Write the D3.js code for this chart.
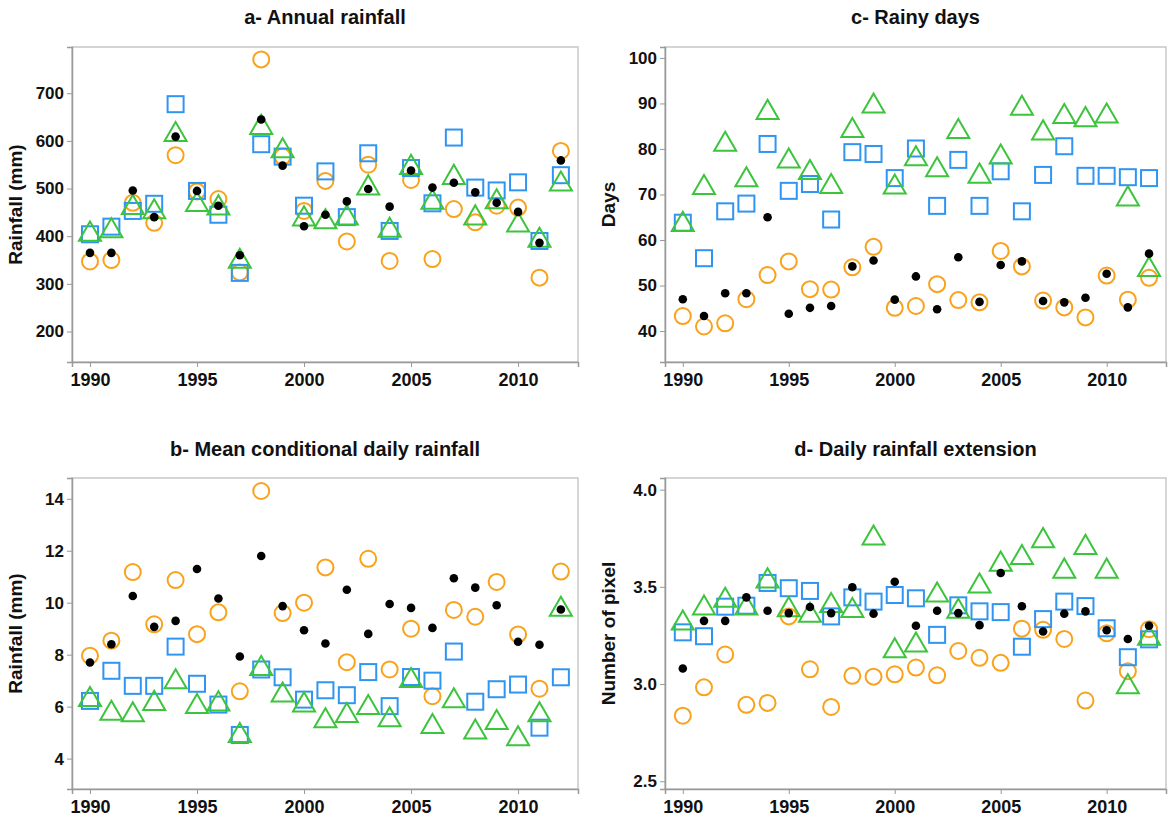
<!DOCTYPE html>
<html>
<head>
<meta charset="utf-8">
<script src="https://cdn.jsdelivr.net/npm/d3@7"></script>
<style>
  body { margin: 0; background: #fff; font-family: Arial, "Liberation Sans", sans-serif; }
</style>
</head>
<body>
<svg id="chart" width="1170" height="818"></svg>
<script>
const years = d3.range(1990, 2013);
const xTicks = [1990, 1995, 2000, 2005, 2010];

// a- Annual rainfall
const aBlack  = [365,365,496,440,609,495,464,360,645,548,421,445,473,499,462,538,502,512,492,470,451,386,559];
const aOrange = [347,350,470,428,570,494,478,324,771,567,453,516,389,550,348,518,352,457,429,464,460,313,579];
const aBlue   = [404,420,453,468,677,495,445,323,593,567,464,536,440,574,411,543,469,607,502,496,513,390,528];
const aGreen  = [404,411,460,451,613,466,459,347,628,579,436,430,438,501,412,544,471,523,438,472,423,391,509];

// c- Rainy days
const cBlack  = [47,43.3,48.3,48.3,65,43.8,45.1,45.5,54.2,55.5,46.9,52,44.8,56.2,46.4,54.5,55.3,46.6,46.3,47.3,52.6,45.2,57];
const cOrange = [43.3,41,41.7,47,52.3,55.3,49.2,49.1,54,58.5,45.1,45.5,50.3,46.8,46.3,57.6,54.2,46.7,45.2,43,52.2,46.9,51.7];
const cBlue   = [63.8,56,66.3,68,81.1,70.8,72.3,64.5,79.3,78.9,73.6,80.1,67.5,77.6,67.5,75.1,66.3,74.3,80.6,74.1,74.1,73.8,73.6];
const cGreen  = [63.4,71.5,81,73.2,88,77.3,74.8,71.7,84,89.4,71.6,77.8,75.4,83.8,74,78.2,88.9,83.5,87.1,86.4,87.2,69,53.5];

// b- Mean conditional daily rainfall
const bBlack  = [7.7,8.4,10.26,9.07,9.3,11.3,10.16,7.93,11.8,9.87,8.94,8.43,10.5,8.8,9.95,9.8,9.03,10.94,10.58,9.9,8.5,8.38,9.74];
const bOrange = [7.96,8.54,11.18,9.17,10.87,8.79,9.63,6.59,14.3,9.6,10,11.36,7.71,11.69,7.43,9.0,6.4,9.72,9.46,10.8,8.78,6.69,11.2];
const bBlue   = [6.22,7.38,6.8,6.8,8.31,6.88,6.08,4.91,7.43,7.13,6.27,6.63,6.44,7.33,6.02,7.14,7.0,8.12,6.19,6.67,6.85,5.19,7.13];
const bGreen  = [6.27,5.74,5.68,6.12,6.95,6.0,6.1,4.88,7.46,6.44,6.06,5.45,5.65,5.96,5.49,7.0,5.23,6.22,5.02,5.38,4.76,5.68,9.74];

// d- Daily rainfall extension
const dBlack  = [3.08,3.325,3.325,3.446,3.377,3.365,3.396,3.365,3.498,3.362,3.526,3.3,3.377,3.365,3.303,3.571,3.4,3.27,3.362,3.374,3.277,3.232,3.3];
const dOrange = [2.837,2.983,3.152,2.893,2.903,3.348,3.076,2.882,3.042,3.038,3.05,3.085,3.045,3.17,3.135,3.109,3.285,3.279,3.232,2.915,3.261,3.066,3.282];
const dBlue   = [3.266,3.246,3.398,3.403,3.52,3.493,3.479,3.348,3.446,3.424,3.458,3.441,3.253,3.405,3.374,3.37,3.192,3.334,3.424,3.401,3.287,3.138,3.23];
const dGreen  = [3.313,3.39,3.43,3.39,3.53,3.382,3.353,3.403,3.377,3.75,3.17,3.2,3.457,3.374,3.503,3.616,3.65,3.737,3.58,3.702,3.58,2.985,3.235];

const panels = [
  { title: "a- Annual rainfall", ylabel: "Rainfall (mm)", left: 72, top: 47, right: 578, bottom: 362,
    ydom: [136, 797], yticks: [200,300,400,500,600,700], fmt: d3.format("d"),
    black: aBlack, orange: aOrange, blue: aBlue, green: aGreen, titleY: 24 },
  { title: "c- Rainy days", ylabel: "Days", left: 665, top: 47, right: 1166, bottom: 362,
    ydom: [33.2, 102.4], yticks: [40,50,60,70,80,90,100], fmt: d3.format("d"),
    black: cBlack, orange: cOrange, blue: cBlue, green: cGreen, titleY: 24 },
  { title: "b- Mean conditional daily rainfall", ylabel: "Rainfall (mm)", left: 72, top: 478, right: 578, bottom: 789,
    ydom: [2.83, 14.8], yticks: [4,6,8,10,12,14], fmt: d3.format("d"),
    black: bBlack, orange: bOrange, blue: bBlue, green: bGreen, titleY: 456 },
  { title: "d- Daily rainfall extension", ylabel: "Number of pixel", left: 665, top: 478, right: 1166, bottom: 789,
    ydom: [2.46, 4.06], yticks: [2.5,3.0,3.5,4.0], fmt: d3.format(".1f"),
    black: dBlack, orange: dOrange, blue: dBlue, green: dGreen, titleY: 456 }
];

const orange = "#f9a21c", blue = "#2f95f2", green = "#3cc43c";
const svg = d3.select("#chart");

panels.forEach(p => {
  const x = d3.scaleLinear().domain([1989.16, 2012.8]).range([p.left, p.right]);
  const y = d3.scaleLinear().domain(p.ydom).range([p.bottom, p.top]);
  const g = svg.append("g");

  g.append("rect")
    .attr("x", p.left).attr("y", p.top)
    .attr("width", p.right - p.left).attr("height", p.bottom - p.top)
    .attr("fill", "none").attr("stroke", "#c8c8c8").attr("stroke-width", 1.5);

  const xAxis = g.append("g").attr("transform", `translate(0,${p.bottom})`)
    .call(d3.axisBottom(x).tickValues(xTicks).tickFormat(d3.format("d")).tickSize(5));
  const yAxis = g.append("g").attr("transform", `translate(${p.left},0)`)
    .call(d3.axisLeft(y).tickValues(p.yticks).tickFormat(p.fmt).tickSize(5));
  [xAxis, yAxis].forEach(a => {
    a.select(".domain").attr("stroke", "#999").attr("stroke-width", 1.5);
    a.selectAll(".tick line").attr("stroke", "#999");
    a.selectAll("text").attr("fill", "#111").attr("font-size", 17).attr("font-weight", "bold");
  });
  xAxis.selectAll("text").attr("dy", "0.9em").attr("font-size", 18);

  g.append("text")
    .attr("x", (p.left + p.right) / 2).attr("y", p.titleY)
    .attr("text-anchor", "middle").attr("font-size", 20).attr("font-weight", "bold")
    .attr("fill", "#111").text(p.title);

  g.append("text")
    .attr("transform", `translate(${p.left - 50},${(p.top + p.bottom) / 2}) rotate(-90)`)
    .attr("text-anchor", "middle").attr("font-size", 19).attr("font-weight", "bold")
    .attr("fill", "#111").text(p.ylabel);

  g.selectAll("circle.orange").data(p.orange).join("circle")
    .attr("class", "orange")
    .attr("cx", (d, i) => x(years[i])).attr("cy", d => y(d)).attr("r", 8)
    .attr("fill", "none").attr("stroke", orange).attr("stroke-width", 2);

  g.selectAll("rect.blue").data(p.blue).join("rect")
    .attr("class", "blue")
    .attr("x", (d, i) => x(years[i]) - 8).attr("y", d => y(d) - 8)
    .attr("width", 16).attr("height", 16)
    .attr("fill", "none").attr("stroke", blue).attr("stroke-width", 2);

  const tri = d3.symbol().type(d3.symbolTriangle).size(210);
  g.selectAll("path.green").data(p.green).join("path")
    .attr("class", "green")
    .attr("transform", (d, i) => `translate(${x(years[i])},${y(d)})`)
    .attr("d", tri)
    .attr("fill", "none").attr("stroke", green).attr("stroke-width", 2);

  g.selectAll("circle.black").data(p.black).join("circle")
    .attr("class", "black")
    .attr("cx", (d, i) => x(years[i])).attr("cy", d => y(d)).attr("r", 4.3)
    .attr("fill", "#000");
});
</script>
</body>
</html>
